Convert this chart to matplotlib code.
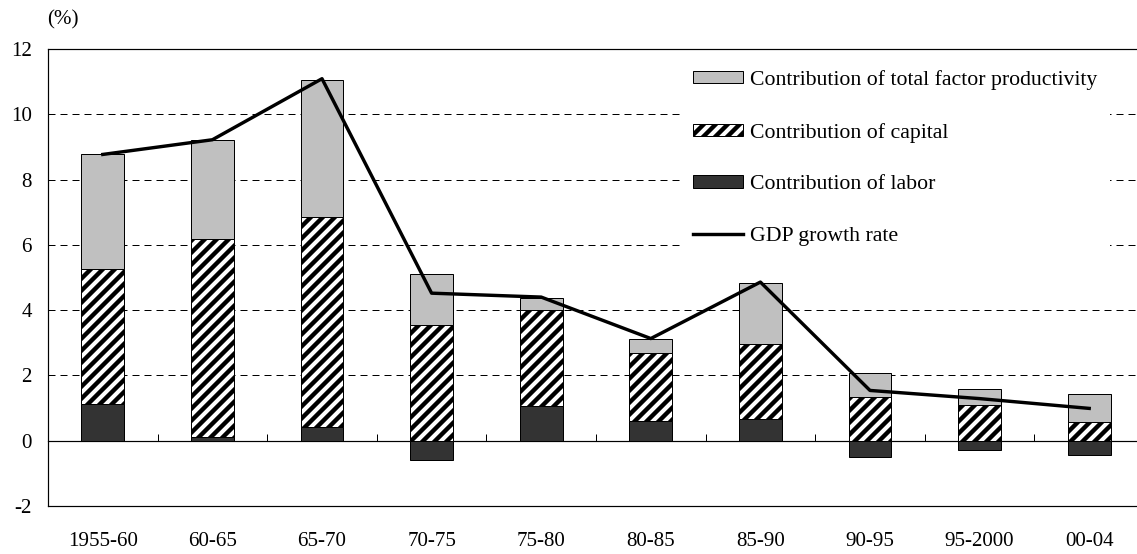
import numpy as np
import matplotlib
matplotlib.use("Agg")
import matplotlib.pyplot as plt
from matplotlib.patches import Patch
from matplotlib.lines import Line2D

# Growth accounting by period (percentage points)
periods = ["1955-60", "60-65", "65-70", "70-75", "75-80", "80-85",
           "85-90", "90-95", "95-2000", "00-04"]
labor = [1.13, 0.10, 0.43, -0.59, 1.06, 0.59, 0.65, -0.51, -0.27, -0.43]
capital = [4.13, 6.08, 6.42, 3.56, 2.95, 2.11, 2.32, 1.33, 1.10, 0.56]
tfp = [3.51, 3.04, 4.21, 1.56, 0.37, 0.43, 1.86, 0.75, 0.49, 0.86]
gdp_growth = [8.77, 9.22, 11.09, 4.52, 4.40, 3.13, 4.86, 1.54, 1.29, 0.99]
y_ticks = [-2, 0, 2, 4, 6, 8, 10, 12]
legend_labels = ["Contribution of total factor productivity",
                 "Contribution of capital",
                 "Contribution of labor",
                 "GDP growth rate"]

DPI = 144
W, H = 1137, 554
plt.rcParams["font.family"] = ["Liberation Serif", "DejaVu Serif"]
plt.rcParams["hatch.linewidth"] = 2.2
plt.rcParams["hatch.color"] = "black"
plt.rcParams["axes.unicode_minus"] = False

TFP_C = "#c0c0c0"
LAB_C = "#333333"
HATCH = "////"

fig = plt.figure(figsize=(W / DPI, H / DPI), dpi=DPI)
ax = fig.add_axes([48 / W, 1 - 506 / H, 1096 / W, (506 - 49) / H])

x = np.arange(len(periods))
lab = np.array(labor)
cap = np.array(capital)
tf = np.array(tfp)
base = np.clip(lab, 0, None)
bw = 0.39

ax.bar(x, lab, bw, color=LAB_C, edgecolor="black", linewidth=0.5, zorder=3)
ax.bar(x, cap, bw, bottom=base, color="white", edgecolor="black",
       hatch=HATCH, linewidth=0.5, zorder=3)
ax.bar(x, tf, bw, bottom=base + cap, color=TFP_C, edgecolor="black",
       linewidth=0.5, zorder=3)
ax.plot(x, gdp_growth, color="black", lw=1.7, zorder=5)

ax.set_xlim(-0.5, len(periods) - 0.5)
ax.set_ylim(y_ticks[0], y_ticks[-1])
ax.set_yticks(y_ticks, labels=[str(v) for v in y_ticks])
ax.set_xticks(x, periods)
ax.tick_params(axis="y", length=0, pad=8, labelsize=10.5)
ax.tick_params(axis="x", length=0, pad=13, labelsize=10.5)
ax.yaxis.grid(True, color="black", lw=0.5, linestyle=(0, (7, 5)))
ax.set_axisbelow(True)
for side in ("left", "top", "bottom"):
    ax.spines[side].set_linewidth(0.6)
ax.spines["right"].set_visible(False)

# zero line with category separators
ylo, yhi = ax.get_ylim()
zero_axis = ax.secondary_xaxis((0 - ylo) / (yhi - ylo))
zero_axis.set_xticks(x[:-1] + 0.5, labels=[])
zero_axis.tick_params(direction="in", length=3.5, width=0.5, color="black")
zero_axis.spines["bottom"].set_linewidth(0.6)

handles = [Patch(facecolor=TFP_C, edgecolor="black", lw=0.5),
           Patch(facecolor="white", edgecolor="black", hatch=HATCH, lw=0.5),
           Patch(facecolor=LAB_C, edgecolor="black", lw=0.5),
           Line2D([], [], color="black", lw=1.7)]
ax.legend(handles, legend_labels, loc="upper left",
          bbox_to_anchor=(680 / W, 1 - 57 / H), bbox_transform=fig.transFigure,
          frameon=True, fancybox=False, edgecolor="none", facecolor="white",
          framealpha=1, fontsize=10.9, handlelength=2.3, handleheight=0.48,
          handletextpad=0.3, labelspacing=1.5, borderpad=0.6, borderaxespad=0)

fig.text(47 / W, 1 - 20 / H, "(%)", ha="left", va="center", fontsize=10.5)

fig.savefig("out.png", dpi=DPI)
